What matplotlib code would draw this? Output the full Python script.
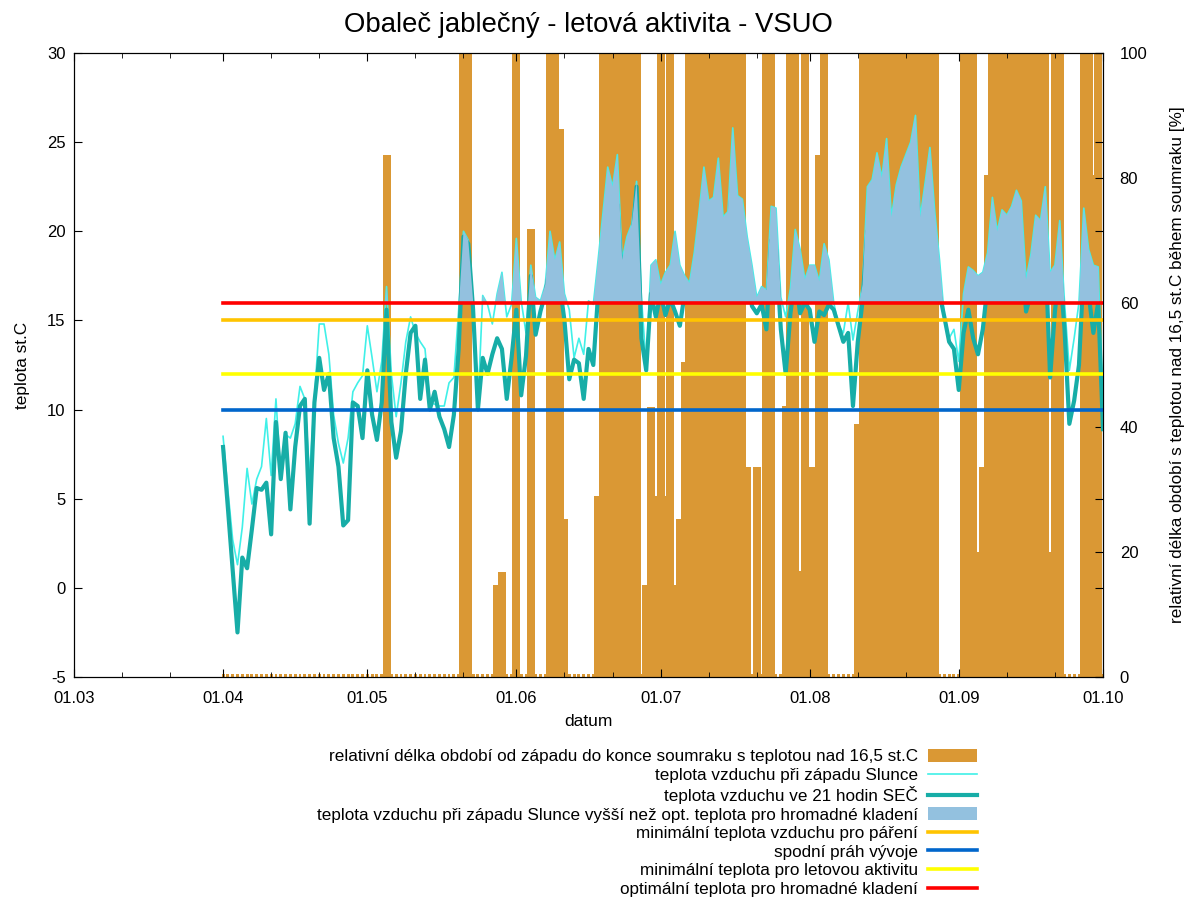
import numpy as np
import pandas as pd
import matplotlib
matplotlib.use('Agg')
import matplotlib.pyplot as plt
import matplotlib.dates as mdates
import matplotlib.patches as mpatches
from matplotlib.lines import Line2D

plt.rcParams['font.family'] = ['Liberation Sans', 'DejaVu Sans']
plt.rcParams['axes.unicode_minus'] = False

# daily values from 01.04 to 01.10
first_day = '2011-04-01'

t_sunset = [
    8.5, 5.5, 2.7, 1.3, 3.4, 6.7, 4.7, 6.1, 6.8, 9.5,
    6.3, 10.6, 6.3, 8.6, 8.4, 9.2, 11.3, 10.6, 6.3, 10.6,
    14.8, 14.8, 13.1, 9.7, 8.1, 7.0, 8.4, 11.0, 11.5, 11.9,
    14.7, 12.9, 11.0, 12.7, 16.9, 12.0, 9.6, 11.5, 13.8, 15.2,
    14.3, 13.8, 13.4, 10.4, 10.3, 10.2, 10.2, 11.5, 11.8, 15.6,
    20.0, 19.5, 16.1, 10.2, 16.4, 15.9, 14.8, 16.5, 17.7, 15.2,
    15.9, 19.6, 16.1, 14.3, 18.1, 16.3, 16.1, 17.0, 20.0, 18.4,
    19.4, 16.5, 15.6, 12.9, 14.0, 13.1, 16.1, 15.9, 18.4, 21.0,
    23.6, 22.5, 24.3, 18.4, 19.7, 20.4, 22.8, 16.3, 12.5, 18.1,
    18.4, 17.0, 17.7, 18.1, 20.0, 18.1, 17.5, 17.1, 18.8, 21.1,
    23.6, 21.7, 21.9, 24.1, 20.8, 21.1, 25.8, 22.0, 21.8, 19.7,
    18.1, 16.3, 16.9, 16.7, 21.4, 21.3, 16.3, 15.2, 16.8, 20.1,
    19.0, 17.3, 18.1, 18.1, 17.2, 19.3, 18.4, 16.0, 14.7, 14.3,
    16.0, 13.9, 15.5, 17.0, 22.5, 22.9, 24.4, 23.0, 25.2, 20.8,
    22.6, 23.6, 24.3, 25.0, 26.5, 20.8, 22.7, 24.7, 21.1, 18.4,
    15.2, 14.0, 14.5, 12.7, 16.5, 18.0, 17.8, 17.5, 17.7, 18.8,
    21.9, 20.0, 21.2, 20.9, 21.4, 22.3, 21.7, 17.3, 18.7, 20.9,
    20.6, 22.5, 17.7, 18.1, 20.6, 16.0, 12.2, 14.0, 16.0, 21.3,
    19.0, 18.1, 18.0, 10.0,
]

t_21h = [
    7.9, 4.5, 1.0, -2.5, 1.7, 1.1, 3.3, 5.6, 5.5, 5.9,
    3.0, 9.3, 6.1, 8.7, 4.4, 7.9, 10.2, 10.6, 3.6, 10.4,
    12.9, 11.1, 12.0, 8.4, 6.8, 3.5, 3.8, 10.4, 10.2, 8.4,
    12.2, 9.7, 8.3, 10.4, 15.6, 9.3, 7.3, 8.8, 12.0, 14.3,
    14.7, 10.6, 12.8, 10.0, 11.0, 9.6, 8.9, 7.9, 9.7, 13.4,
    19.7, 19.3, 15.6, 10.0, 12.9, 12.0, 13.1, 14.0, 13.4, 10.6,
    12.9, 15.6, 10.8, 13.0, 17.5, 14.2, 15.5, 16.5, 18.0, 16.5,
    17.0, 15.0, 11.7, 12.8, 12.6, 10.6, 13.4, 12.5, 16.5, 19.0,
    21.0, 20.0, 21.5, 17.0, 18.0, 19.0, 22.5, 14.0, 12.2, 16.5,
    15.2, 16.5, 15.3, 16.2, 15.5, 14.7, 16.5, 16.5, 17.5, 19.5,
    21.0, 19.5, 20.0, 21.5, 19.0, 19.5, 23.0, 20.0, 19.5, 17.5,
    15.8, 15.4, 15.9, 14.5, 19.5, 19.0, 14.5, 12.0, 15.4, 17.5,
    15.4, 16.0, 15.6, 13.8, 15.5, 15.3, 15.9, 15.6, 14.7, 13.8,
    14.3, 10.2, 13.8, 16.1, 20.0, 20.5, 21.5, 20.5, 22.0, 19.0,
    20.0, 21.0, 21.5, 22.0, 23.0, 19.0, 20.0, 21.5, 18.5, 16.5,
    15.2, 13.8, 13.4, 11.1, 14.3, 15.6, 14.0, 13.1, 14.5, 17.0,
    19.0, 18.0, 19.0, 18.5, 19.0, 19.5, 19.0, 15.5, 16.5, 18.5,
    18.5, 19.0, 11.8, 15.5, 18.0, 14.5, 9.2, 10.5, 12.5, 18.0,
    16.5, 14.3, 16.0, 8.9,
]

rel_pct = [
    0, 0, 0, 0, 0, 0, 0, 0, 0, 0,
    0, 0, 0, 0, 0, 0, 0, 0, 0, 0,
    0, 0, 0, 0, 0, 0, 0, 0, 0, 0,
    0, 0, 0, 0, 83.6, 0, 0, 0, 0, 0,
    0, 0, 0, 0, 0, 0, 0, 0, 0, 0,
    100, 100, 0, 0, 0, 0, 0, 14.7, 16.9, 0,
    0, 100, 0, 0, 71.8, 0, 0, 0, 100, 100,
    87.9, 25.3, 0, 0, 0, 0, 0, 0, 29.0, 100,
    100, 100, 100, 100, 100, 100, 100, 0, 14.7, 43.2,
    29.0, 100, 29.0, 100, 14.8, 25.3, 50.5, 100, 100, 100,
    100, 100, 100, 100, 100, 100, 100, 100, 100, 33.6,
    0, 33.6, 0, 100, 100, 0, 0, 43.4, 100, 100,
    17.0, 100, 33.6, 33.6, 83.6, 100, 0, 0, 0, 0,
    0, 0, 40.5, 100, 100, 100, 100, 100, 100, 100,
    100, 100, 100, 100, 100, 100, 100, 100, 100, 0,
    0, 0, 0, 0, 100, 100, 100, 20.0, 33.6, 80.4,
    100, 100, 100, 100, 100, 100, 100, 100, 100, 100,
    100, 100, 20.0, 100, 100, 0, 0, 0, 0, 100,
    100, 80.4, 100, 0,
]

limit_values = [15, 10, 12, 16]
limit_labels = ['minimální teplota vzduchu pro páření',
                'spodní práh vývoje',
                'minimální teplota pro letovou aktivitu',
                'optimální teplota pro hromadné kladení']
limit_colors = ['#FFC400', '#0066CC', '#FFFF00', '#FF0000']

bar_color = '#DA9834'
sunset_color = '#40F0E8'
t21_color = '#17ADA7'
fill_color = '#93C1DF'

dates = pd.date_range(first_day, periods=len(t_sunset), freq='D')
x = mdates.date2num(dates.to_pydatetime())
ts = np.array(t_sunset)
t21 = np.array(t_21h)
pct = np.array(rel_pct, dtype=float)

fig = plt.figure(figsize=(11.89, 8.97), dpi=100)
ax = fig.add_axes([74 / 1189, 1 - 677 / 897, 1029 / 1189, 624 / 897])
ax2 = ax.twinx()
ax.set_zorder(ax2.get_zorder() + 1)
ax.patch.set_visible(False)

# boxes are wider than one day, each next day is drawn over the previous one
nz = pct > 0
ax2.bar(x[nz], pct[nz], width=1.66, color=bar_color, linewidth=0)
ax2.bar(x[~nz], 0.45, width=0.6, color=bar_color, linewidth=0)
ax2.set_ylim(0, 100)
ax2.set_yticks(range(0, 101, 20))
ax2.tick_params(axis='y', direction='in', length=6, labelsize=12, pad=12)
ax2.set_ylabel('relativní délka období s teplotou nad 16,5 st.C během soumraku [%]',
               fontsize=12.3, labelpad=16)

ax.plot(x, ts, color=sunset_color, lw=1.2, zorder=2)
ax.plot(x, t21, color=t21_color, lw=3.0, zorder=3)
ax.fill_between(x, 16, ts, where=ts > 16, interpolate=True,
                color=fill_color, lw=0, zorder=4)
for v, c in zip(limit_values, limit_colors):
    ax.plot([x[0], x[-1]], [v, v], color=c, lw=2.6, zorder=5)

ax.set_xlim(mdates.date2num(pd.Timestamp('2011-03-01')),
            mdates.date2num(pd.Timestamp('2011-10-01')))
ax.set_ylim(-5, 30)
ax.set_yticks(range(-5, 31, 5))
ax.xaxis.set_major_locator(mdates.MonthLocator())
ax.xaxis.set_major_formatter(mdates.DateFormatter('%d.%m'))
ax.xaxis.set_minor_locator(mdates.DayLocator(bymonthday=[11, 21]))
ax.tick_params(axis='both', which='major', direction='in', length=6,
               labelsize=12, top=True, right=True)
ax.tick_params(axis='x', which='major', pad=10)
ax.tick_params(axis='y', which='major', pad=6)
ax.tick_params(axis='both', which='minor', direction='in', length=3.5,
               top=True, right=True)

ax.set_xlabel('datum', fontsize=12.5, labelpad=6)
ax.set_ylabel('teplota st.C', fontsize=12.4, labelpad=12)
fig.text(588 / 1189, 1 - 25 / 897, 'Obaleč jablečný - letová aktivita - VSUO',
         ha='center', va='center', fontsize=19.8)

handles = [mpatches.Patch(facecolor=bar_color),
           Line2D([], [], color=sunset_color, lw=1.2),
           Line2D([], [], color=t21_color, lw=3.0),
           mpatches.Patch(facecolor=fill_color)]
labels = ['relativní délka období od západu do konce soumraku s teplotou nad 16,5 st.C',
          'teplota vzduchu při západu Slunce',
          'teplota vzduchu ve 21 hodin SEČ',
          'teplota vzduchu při západu Slunce vyšší než opt. teplota pro hromadné kladení']
for v, c, lab in zip(limit_values, limit_colors, limit_labels):
    handles.append(Line2D([], [], color=c, lw=2.6))
    labels.append(lab)

fig.legend(handles, labels, loc='upper right',
           bbox_to_anchor=(977 / 1189, 1 - 749 / 897),
           frameon=False, markerfirst=False, fontsize=12.3,
           handlelength=2.87, handleheight=0.8, handletextpad=0.58,
           labelspacing=0.18, borderaxespad=0, borderpad=0)

fig.savefig('out.png', dpi=100)
